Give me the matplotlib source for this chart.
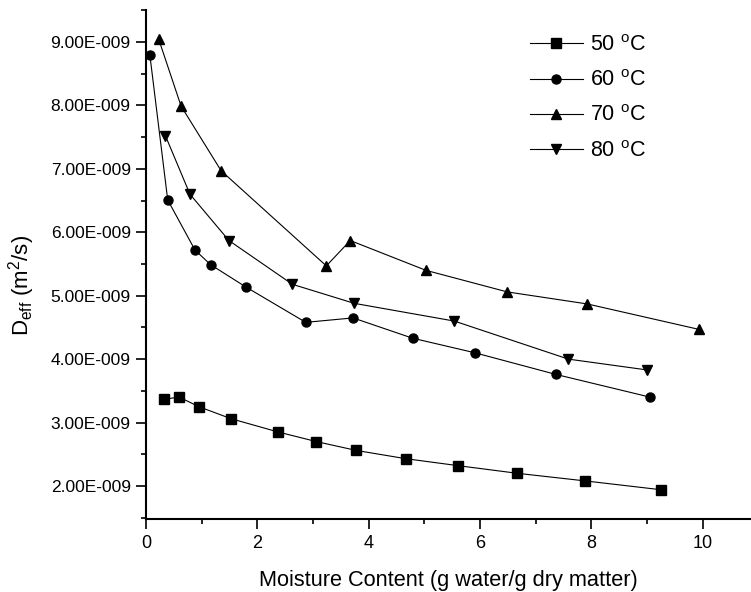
import matplotlib
matplotlib.use("Agg")
import matplotlib.pyplot as plt
from matplotlib.ticker import FuncFormatter

plt.rcParams['font.family'] = ['Liberation Sans', 'DejaVu Sans']
plt.rcParams['mathtext.fontset'] = 'custom'
plt.rcParams['mathtext.rm'] = 'Liberation Sans'

# Data (D_eff in units of 1e-9 m^2/s)
x50 = [0.33, 0.60, 0.95, 1.53, 2.38, 3.06, 3.78, 4.67, 5.61, 6.67, 7.89, 9.26]
y50 = [3.37, 3.40, 3.25, 3.06, 2.85, 2.70, 2.56, 2.43, 2.32, 2.20, 2.08, 1.94]

x60 = [0.07, 0.39, 0.88, 1.16, 1.79, 2.87, 3.72, 4.79, 5.91, 7.36, 9.06]
y60 = [8.79, 6.51, 5.72, 5.49, 5.14, 4.58, 4.65, 4.33, 4.10, 3.76, 3.40]

x70 = [0.23, 0.63, 1.35, 3.24, 3.67, 5.03, 6.49, 7.93, 9.93]
y70 = [9.04, 7.99, 6.97, 5.47, 5.87, 5.40, 5.06, 4.87, 4.47]

x80 = [0.35, 0.79, 1.49, 2.63, 3.74, 5.54, 7.59, 9.00]
y80 = [7.52, 6.60, 5.87, 5.18, 4.88, 4.60, 4.00, 3.83]

labels = ['50 $^{\\mathregular{o}}$C', '60 $^{\\mathregular{o}}$C',
          '70 $^{\\mathregular{o}}$C', '80 $^{\\mathregular{o}}$C']

xticks_major = [0, 2, 4, 6, 8, 10]
xticks_minor = [1, 3, 5, 7, 9]
yticks_major = [2, 3, 4, 5, 6, 7, 8, 9]
yticks_minor = [1.5, 2.5, 3.5, 4.5, 5.5, 6.5, 7.5, 8.5, 9.5]

W, H = 751, 592
fig = plt.figure(figsize=(W / 100, H / 100), dpi=100)
ax = fig.add_axes([146 / W, 1 - 518.7 / H, 1 - 146 / W, (518.7 - 10) / H])

series = [(x50, y50, 's', 6.5), (x60, y60, 'o', 6.5), (x70, y70, '^', 7.5), (x80, y80, 'v', 7.5)]
for (xs, ys, m, ms), lab in zip(series, labels):
    ax.plot(xs, [v * 1e-9 for v in ys], color='black', lw=0.8, marker=m, ms=ms,
            mec='black', mfc='black', label=lab)

ax.set_xlim(0, 10.87)
ax.set_ylim(1.484e-9, 9.505e-9)
ax.set_xticks(xticks_major)
ax.set_xticks(xticks_minor, minor=True)
ax.set_yticks([v * 1e-9 for v in yticks_major])
ax.set_yticks([v * 1e-9 for v in yticks_minor if v * 1e-9 <= 9.5e-9], minor=True)
ax.yaxis.set_major_formatter(FuncFormatter(lambda v, p: f"{v * 1e9:.2f}E-009"))

for s in ['top', 'right']:
    ax.spines[s].set_visible(False)
for s in ['left', 'bottom']:
    ax.spines[s].set_linewidth(1.5)

ax.tick_params(which='major', direction='out', length=7, width=1.2, pad=4)
ax.tick_params(which='minor', direction='out', length=3.3, width=1.2)
ax.tick_params(axis='y', which='major', labelsize=12.5, pad=4)
ax.tick_params(axis='x', which='major', labelsize=13, pad=5)

ax.set_xlabel('Moisture Content (g water/g dry matter)', fontsize=15.7, labelpad=13)
ax.set_ylabel('D$_{\\mathregular{eff}}$ (m$^{\\mathregular{2}}$/s)', fontsize=16)
ax.yaxis.set_label_coords(-0.18, 0.459)

leg = ax.legend(loc='upper left', bbox_to_anchor=(530 / W, 1 - 35 / H),
                bbox_transform=fig.transFigure, frameon=False, fontsize=15.5,
                handlelength=2.45, handletextpad=0.35, labelspacing=0.66,
                borderpad=0, borderaxespad=0)

fig.savefig('out.png', dpi=100)
